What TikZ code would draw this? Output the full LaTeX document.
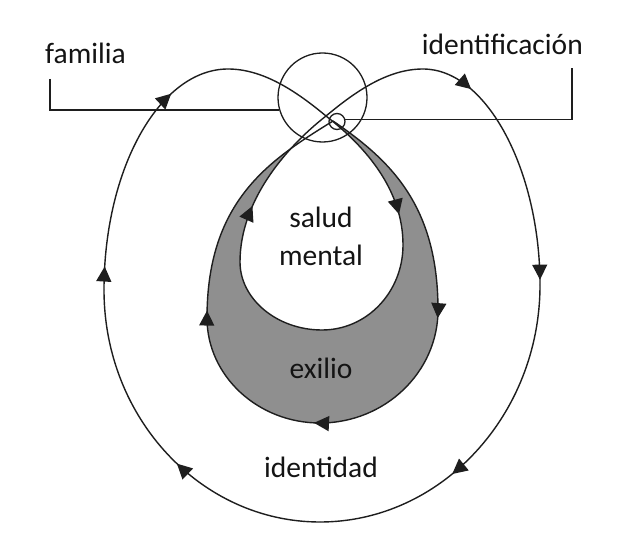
\documentclass[tikz,border=0pt]{standalone}
\usepackage{fontspec}
\setmainfont{Carlito}
\usetikzlibrary{decorations.markings,arrows.meta}
\definecolor{ink}{RGB}{30,30,30}
\definecolor{band}{RGB}{143,143,143}
\tikzset{
 loopline/.style={draw=ink,line width=1.4pt},
 arr/.style={postaction={decorate,decoration={markings,mark=at position #1 with {\arrow{Triangle[length=15pt,width=15pt]}}}}},
 ring/.style={draw=ink,circle,inner sep=0pt,line width=1.3pt},
 lbl/.style={inner sep=0pt,font=\fontsize{29.5}{36}\selectfont,text=black!92},
 bracket/.style={draw=ink,line width=1.3pt},
}
\begin{document}
\begin{tikzpicture}[x=1pt,y=-1pt]
\useasboundingbox[fill=white] (0,0) rectangle (620,553);
% knots
\coordinate (C) at (326,116);
\coordinate (S) at (333,121);
\coordinate (P1) at (423,69);
\coordinate (P2) at (540,285);
\coordinate (P3) at (320,522);
\coordinate (P4) at (104,290);
\coordinate (P5) at (228,69);
\coordinate (R) at (403,245);
\coordinate (B) at (322,330);
\coordinate (L) at (240,262);
\coordinate (Rg) at (438,310);
\coordinate (Bg) at (320,423);
\coordinate (Lg) at (207,318);
% gray band
\fill[band] (S) .. controls (390,160) and (438,205) .. (Rg)
  .. controls (438,372) and (385,423) .. (Bg)
  .. controls (258,423) and (207,376) .. (Lg)
  .. controls (207,200) and (270,160) .. (S) -- cycle;
\fill[white] (C) .. controls (366,147) and (403,190) .. (R)
  .. controls (403,292) and (367,330) .. (B)
  .. controls (277,330) and (240,299) .. (L)
  .. controls (240,202) and (284,149) .. (C) -- cycle;
% gray band outline
\draw[loopline] (S) .. controls (390,160) and (438,205) .. (Rg);
\draw[loopline,arr=0.045] (Rg) .. controls (438,372) and (385,423) .. (Bg);
\draw[loopline,arr=0.035] (Bg) .. controls (258,423) and (207,376) .. (Lg);
\draw[loopline,arr=0.03] (Lg) .. controls (207,200) and (270,160) .. (S);
% inner loop (salud mental)
\draw[loopline,arr=0.8] (C) .. controls (366,147) and (403,190) .. (R);
\draw[loopline] (R) .. controls (403,292) and (367,330) .. (B);
\draw[loopline] (B) .. controls (277,330) and (240,299) .. (L);
\draw[loopline,arr=0.33] (L) .. controls (240,202) and (284,149) .. (C);
% outer loop
\draw[loopline] (C) .. controls (356,91) and (388,69) .. (P1);
\draw[loopline,arr=0.2,arr=0.98] (P1) .. controls (487,69) and (540,171) .. (P2);
\draw[loopline,arr=0.6] (P2) .. controls (540,415) and (441,522) .. (P3);
\draw[loopline,arr=0.45] (P3) .. controls (201,522) and (104,418) .. (P4);
\draw[loopline,arr=0.085,arr=0.77] (P4) .. controls (104,168) and (160,69) .. (P5);
\draw[loopline] (P5) .. controls (263,69) and (296,91) .. (C);
% circles
\node[ring,minimum size=89pt] (bc) at (322.5,97.5) {};
\node[ring,minimum size=16pt] (sc) at (337,121.5) {};
% brackets
\coordinate (famEnd) at (50,79);
\coordinate (ideEnd) at (572,68);
\draw[bracket] (famEnd) |- (bc.196);
\draw[bracket] (sc.15) -| (ideEnd);
% labels
\node[lbl,anchor=base west] (fam) at (45,64) {familia};
\node[lbl,anchor=base east] (idf) at (583,55) {identificación};
\node[lbl,anchor=base] (sal) at (321,227) {salud};
\node[lbl,anchor=base] (men) at (321,265) {mental};
\node[lbl,anchor=base] (exi) at (321,378) {exilio};
\node[lbl,anchor=base] (idt) at (321,477) {identidad};
\end{tikzpicture}
\end{document}
